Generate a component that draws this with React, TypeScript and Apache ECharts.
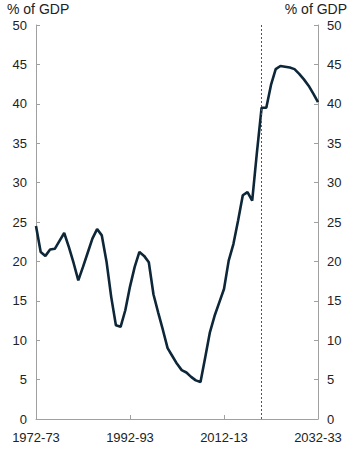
import React, { useEffect, useRef } from "react";
import * as echarts from "echarts";

const startYear = 1972;
const yearCount = 61;
const categories: string[] = [];
for (let i = 0; i < yearCount; i++) {
  const y = startYear + i;
  categories.push(`${y}-${String((y + 1) % 100).padStart(2, "0")}`);
}

const debtValues = [
  24.5, 21.2, 20.7, 21.5, 21.6, 22.6, 23.6, 21.8, 19.8, 17.6,
  19.3, 21.1, 22.9, 24.1, 23.3, 20.0, 15.5, 11.9, 11.7, 13.8,
  16.8, 19.3, 21.2, 20.7, 19.9, 15.8, 13.5, 11.3, 9.0, 8.0,
  7.0, 6.2, 5.9, 5.35, 4.9, 4.7, 7.8, 11.0, 13.1, 14.8,
  16.5, 20.1, 22.2, 25.2, 28.4, 28.8, 27.7, 33.8, 39.5, 39.5,
  42.4, 44.4, 44.8, 44.7, 44.6, 44.4, 43.8, 43.1, 42.3, 41.3,
  40.2,
];

const projectionStart = "2020-21";
const axisTitle = "% of GDP";

export default function App() {
  const ref = useRef<HTMLDivElement>(null);
  useEffect(() => {
    if (!ref.current) return;
    const chart = echarts.init(ref.current, null, { renderer: "svg" });
    const font = "Arial, 'Liberation Sans', sans-serif";
    const axisLineStyle = { color: "#a0a0a0", width: 1 };
    const yAxisCommon = {
      type: "value" as const,
      min: 0,
      max: 50,
      interval: 5,
      splitLine: { show: false },
      axisLine: { show: true, lineStyle: axisLineStyle },
      axisTick: { show: true, inside: true, length: 4, lineStyle: axisLineStyle },
      axisLabel: { color: "#222", fontSize: 13, fontFamily: font, margin: 9 },
    };
    chart.setOption({
      animation: false,
      backgroundColor: "#fff",
      grid: { left: 36, right: 37, top: 25, bottom: 37, containLabel: false },
      xAxis: {
        type: "category",
        data: categories,
        boundaryGap: false,
        axisLine: { show: true, lineStyle: axisLineStyle },
        axisTick: { show: true, inside: true, length: 4, interval: 19, lineStyle: axisLineStyle },
        axisLabel: { color: "#222", fontSize: 13, fontFamily: font, interval: 19, margin: 12, showMaxLabel: true },
        splitLine: { show: false },
      },
      yAxis: [
        { ...yAxisCommon, position: "left" },
        { ...yAxisCommon, position: "right" },
      ],
      graphic: [
        { type: "text", left: 7, top: 2, style: { text: axisTitle, fill: "#222", font: `14px ${font}` } },
        { type: "text", right: 8, top: 2, style: { text: axisTitle, fill: "#222", font: `14px ${font}` } },
      ],
      series: [
        {
          type: "line",
          data: debtValues,
          showSymbol: false,
          symbol: "none",
          lineStyle: { color: "#0d2739", width: 2.6 },
          markLine: {
            silent: true,
            symbol: "none",
            label: { show: false },
            lineStyle: { color: "#555", width: 1, type: [2, 2] },
            data: [{ xAxis: projectionStart }],
          },
        },
      ],
    });
    return () => chart.dispose();
  }, []);
  return <div ref={ref} style={{ width: 355, height: 456, position: "absolute", left: 0, top: 0 }} />;
}
